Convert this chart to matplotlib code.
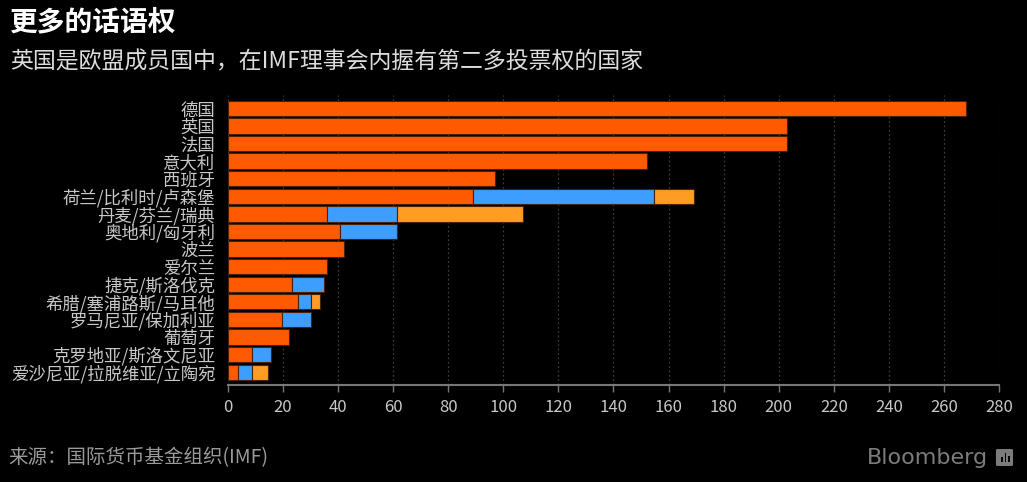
import matplotlib
matplotlib.use("Agg")
import matplotlib.pyplot as plt
from matplotlib.patches import FancyBboxPatch, Rectangle
import numpy as np

plt.rcParams['font.family'] = ['Noto Sans CJK SC', 'DejaVu Sans']

categories = ["德国", "英国", "法国", "意大利", "西班牙",
              "荷兰/比利时/卢森堡", "丹麦/芬兰/瑞典", "奥地利/匈牙利",
              "波兰", "爱尔兰", "捷克/斯洛伐克", "希腊/塞浦路斯/马耳他",
              "罗马尼亚/保加利亚", "葡萄牙", "克罗地亚/斯洛文尼亚",
              "爱沙尼亚/拉脱维亚/立陶宛"]
seg1 = [268, 203, 203, 152, 97, 88.8, 35.8, 40.6, 42.3, 35.9, 23.2, 25.6, 19.7, 22.0, 8.6, 3.8]
seg2 = [0, 0, 0, 0, 0, 65.8, 25.6, 20.8, 0, 0, 11.5, 4.6, 10.3, 0, 7.2, 4.9]
seg3 = [0, 0, 0, 0, 0, 14.5, 45.9, 0, 0, 0, 0, 3.1, 0, 0, 0, 5.8]
xticks = list(range(0, 281, 20))

c1, c2, c3 = "#ff5a00", "#3d9eff", "#ff9c25"
edge = "#4a2208"

fig = plt.figure(figsize=(10.27, 4.82), dpi=100, facecolor="black")
ax = fig.add_axes([0.222, 0.2012, 0.7507, 0.6018], facecolor="black")

y = np.arange(len(categories))
s1 = np.array(seg1); s2 = np.array(seg2); s3 = np.array(seg3)
h = 0.87
ax.barh(y, s1, height=h, color=c1, edgecolor=edge, linewidth=0.8, zorder=3)
m2 = s2 > 0
ax.barh(y[m2], s2[m2], left=s1[m2], height=h, color=c2, edgecolor=edge, linewidth=0.8, zorder=3)
m3 = s3 > 0
ax.barh(y[m3], s3[m3], left=(s1 + s2)[m3], height=h, color=c3, edgecolor=edge, linewidth=0.8, zorder=3)

ax.set_xlim(0, 280)
ax.set_ylim(15.73, -0.76)
ax.set_xticks(xticks)
ax.set_xticklabels([str(t) for t in xticks], color="#c8c8c8", fontsize=12)
ax.set_yticks(y)
ax.set_yticklabels(categories, color="#c8c8c8", fontsize=12.5)
ax.tick_params(axis="y", length=0, pad=9)
ax.tick_params(axis="x", length=5, width=1, color="#777777", pad=5)
ax.grid(axis="x", color="#3a3a3a", linestyle=(0, (1.5, 2)), linewidth=0.9, zorder=0)
for s in ["top", "right", "left"]:
    ax.spines[s].set_visible(False)
ax.spines["bottom"].set_color("#777777")
ax.spines["bottom"].set_linewidth(1.5)

W, H = 1027, 482
fig.text(0.010, 0.954, "更多的话语权", color="white", fontsize=20, fontweight="bold", va="center", ha="left")
fig.text(0.010, 0.871, "英国是欧盟成员国中，在IMF理事会内握有第二多投票权的国家", color="#dddddd", fontsize=16.5, va="center", ha="left")
fig.text(0.008, 0.050, "来源：国际货币基金组织(IMF)", color="#9a9a9a", fontsize=14, va="center", ha="left")
fig.text(988 / W, 1 - 458 / H, "Bloomberg", color="#7c7c7c", fontsize=16, fontweight="normal", va="center", ha="right",
         family=["DejaVu Sans"])

# small Bloomberg icon
icon = FancyBboxPatch((998 / W, 1 - 465 / H), 13 / W, 15 / H, boxstyle="round,pad=0.002",
                      transform=fig.transFigure, facecolor="#7c7c7c", edgecolor="none")
fig.patches.append(icon)
for i, bh in enumerate([5, 9, 6]):
    fig.patches.append(Rectangle(((1001 + i * 3.5) / W, 1 - 462 / H), 1.8 / W, bh / H,
                                 transform=fig.transFigure, facecolor="black", edgecolor="none"))

fig.savefig("out.png", dpi=100, facecolor="black")
